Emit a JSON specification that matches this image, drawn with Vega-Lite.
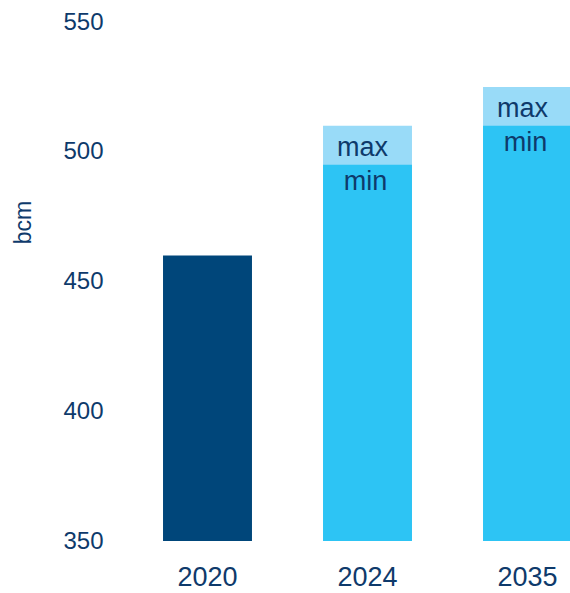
{
  "$schema": "https://vega.github.io/schema/vega-lite/v6.json",
  "autosize": {"type": "none"},
  "width": 442.5,
  "height": 519,
  "padding": {"left": 127.5, "top": 22, "right": 0, "bottom": 52},
  "background": "white",
  "config": {
    "view": {"stroke": null},
    "font": "Liberation Sans, sans-serif"
  },
  "data": {
    "values": [
      {"year": "2020", "type": "actual", "value": 460},
      {"year": "2024", "type": "min", "value": 495},
      {"year": "2024", "type": "max", "value": 510},
      {"year": "2035", "type": "min", "value": 510},
      {"year": "2035", "type": "max", "value": 525}
    ]
  },
  "encoding": {
    "x": {
      "field": "year",
      "type": "nominal",
      "sort": ["2020", "2024", "2035"],
      "scale": {"range": [0, 480], "paddingInner": 0.444, "paddingOuter": 0.222},
      "axis": {
        "title": null,
        "labelAngle": 0,
        "domain": false,
        "ticks": false,
        "labelFontSize": 27,
        "labelColor": "#0E3A6B",
        "labelPadding": 23,
        "labelFont": "Liberation Sans, sans-serif"
      }
    },
    "y": {
      "field": "value",
      "type": "quantitative",
      "scale": {"domain": [350, 550], "zero": false, "nice": false},
      "axis": {
        "title": "bcm",
        "values": [350, 400, 450, 500, 550],
        "grid": false,
        "domain": false,
        "ticks": false,
        "labelFontSize": 24,
        "labelColor": "#0E3A6B",
        "labelPadding": 24.5,
        "labelFont": "Liberation Sans, sans-serif",
        "titleFont": "Liberation Sans, sans-serif",
        "titleFontSize": 23,
        "titleFontWeight": "normal",
        "titleColor": "#0E3A6B",
        "titleAngle": -90,
        "titleX": -97.5,
        "titleY": 200,
        "titleAlign": "center",
        "titleBaseline": "alphabetic"
      }
    }
  },
  "layer": [
    {
      "transform": [{"filter": "datum.type === 'max'"}],
      "mark": {"type": "bar", "clip": true, "color": "#99DBF8"}
    },
    {
      "transform": [{"filter": "datum.type !== 'max'"}],
      "mark": {"type": "bar", "clip": true},
      "encoding": {
        "color": {
          "field": "type",
          "type": "nominal",
          "scale": {"domain": ["actual", "min"], "range": ["#00467A", "#2DC4F4"]},
          "legend": null
        }
      }
    },
    {
      "transform": [{"filter": "datum.type === 'max'"}],
      "mark": {"type": "text", "baseline": "alphabetic", "dy": 30, "dx": -5, "fontSize": 27, "color": "#0E3A6B"},
      "encoding": {"text": {"field": "type"}}
    },
    {
      "transform": [{"filter": "datum.type === 'min'"}],
      "mark": {"type": "text", "baseline": "alphabetic", "dy": 25, "dx": -2, "fontSize": 27, "color": "#0E3A6B"},
      "encoding": {"text": {"field": "type"}}
    }
  ]
}
